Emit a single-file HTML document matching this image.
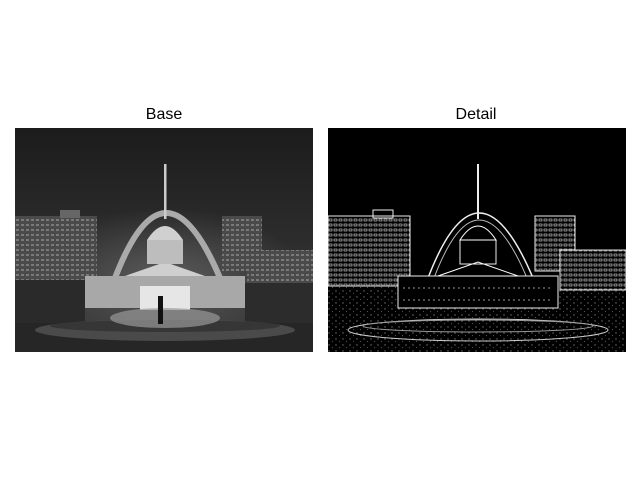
<!DOCTYPE html>
<html><head><meta charset="utf-8"><style>
body{margin:0;background:#fff;width:640px;height:480px;overflow:hidden;font-family:"Liberation Sans","DejaVu Sans",sans-serif}
</style></head><body>
<svg width="640" height="480">
<defs>
<linearGradient id="sky" x1="0" y1="0" x2="0" y2="1">
<stop offset="0" stop-color="#1c1c1c"/><stop offset="0.55" stop-color="#2e2e2e"/><stop offset="1" stop-color="#3c3c3c"/>
</linearGradient>
<radialGradient id="glow" cx="0.5" cy="0.5" r="0.5">
<stop offset="0" stop-color="#777" stop-opacity="0.6"/><stop offset="1" stop-color="#777" stop-opacity="0"/>
</radialGradient>
<pattern id="win" width="5" height="5" patternUnits="userSpaceOnUse"><rect width="5" height="5" fill="#4a4a4a"/><rect x="1" y="1" width="3" height="2" fill="#7a7a7a"/></pattern>
<pattern id="winD" width="5" height="5" patternUnits="userSpaceOnUse"><rect width="5" height="5" fill="#000"/><rect x="1" y="1" width="3" height="2" fill="none" stroke="#ddd" stroke-width="0.6"/></pattern>
<pattern id="noise" width="7" height="6" patternUnits="userSpaceOnUse"><rect width="7" height="6" fill="#000"/><circle cx="1" cy="1" r="0.7" fill="#bbb"/><circle cx="4.5" cy="3.5" r="0.6" fill="#888"/></pattern>
<clipPath id="c1"><rect width="298" height="224"/></clipPath>
</defs>
<text x="164" y="119" font-size="16" text-anchor="middle">Base</text>
<text x="476" y="119" font-size="16" text-anchor="middle">Detail</text>

<g transform="translate(15,128)" clip-path="url(#c1)">
<rect width="298" height="224" fill="url(#sky)"/>
<ellipse cx="150" cy="150" rx="140" ry="70" fill="url(#glow)"/>
<rect x="0" y="88" width="82" height="80" fill="url(#win)"/>
<rect x="45" y="82" width="20" height="8" fill="#666"/>
<rect x="207" y="88" width="40" height="55" fill="url(#win)"/>
<rect x="232" y="122" width="66" height="45" fill="url(#win)"/>
<path d="M100,150 Q150,20 205,150" fill="none" stroke="#aaa" stroke-width="6"/>
<path d="M70,148 L230,148 L230,180 L70,180 Z" fill="#a8a8a8"/>
<path d="M110,148 L150,134 L190,148 Z" fill="#cfcfcf"/>
<rect x="132" y="112" width="36" height="24" fill="#bdbdbd"/>
<path d="M132,112 Q150,84 168,112 Z" fill="#d0d0d0"/>
<rect x="149" y="36" width="2.5" height="55" fill="#ccc"/>
<rect x="125" y="158" width="50" height="24" fill="#e6e6e6"/>
<rect x="0" y="152" width="70" height="45" fill="#2a2a2a"/>
<rect x="230" y="155" width="68" height="42" fill="#2c2c2c"/>
<rect x="0" y="195" width="298" height="29" fill="#262626"/>
<ellipse cx="150" cy="202" rx="130" ry="11" fill="#4a4a4a"/>
<ellipse cx="150" cy="198" rx="115" ry="6" fill="#363636"/>
<ellipse cx="150" cy="190" rx="55" ry="10" fill="#999" opacity="0.7"/>
<rect x="143" y="168" width="5" height="28" fill="#111"/>
</g>

<g transform="translate(328,128)" clip-path="url(#c1)">
<rect width="298" height="224" fill="#000"/>
<rect x="0" y="150" width="298" height="74" fill="url(#noise)" opacity="0.6"/>
<rect x="0" y="88" width="82" height="70" fill="url(#winD)" stroke="#eee"/>
<rect x="45" y="82" width="20" height="8" fill="none" stroke="#eee"/>
<rect x="207" y="88" width="40" height="55" fill="url(#winD)" stroke="#eee"/>
<rect x="232" y="122" width="66" height="40" fill="url(#winD)" stroke="#ddd"/>
<path d="M100,150 Q150,20 205,150" fill="none" stroke="#eee" stroke-width="1.5"/>
<path d="M106,150 Q150,34 199,150" fill="none" stroke="#bbb" stroke-width="1"/>
<path d="M70,148 L230,148 L230,180 L70,180 Z" fill="#000" stroke="#eee"/>
<path d="M110,148 L150,134 L190,148 Z" fill="none" stroke="#fff"/>
<rect x="132" y="112" width="36" height="24" fill="none" stroke="#eee"/>
<path d="M132,112 Q150,84 168,112 Z" fill="none" stroke="#fff"/>
<rect x="149" y="36" width="2" height="55" fill="#eee"/>
<path d="M75,160 L225,160 M75,172 L225,172" stroke="#999" stroke-dasharray="2 3"/>
<ellipse cx="150" cy="202" rx="130" ry="11" fill="none" stroke="#ccc"/>
<ellipse cx="150" cy="198" rx="115" ry="6" fill="none" stroke="#999"/>
</g>
</svg>
</body></html>
